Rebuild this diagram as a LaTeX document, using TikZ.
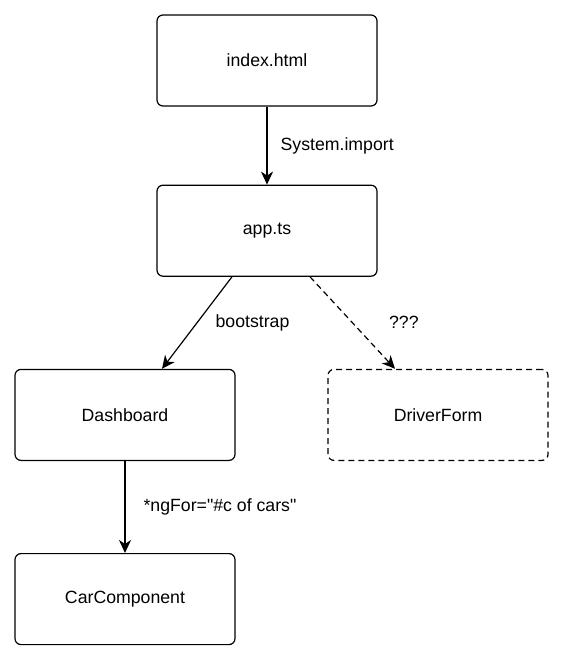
\documentclass[tikz,border=0pt]{standalone}
\usepackage{fontspec}
\newfontfamily\diafont{Liberation Sans}
\usetikzlibrary{arrows.meta,positioning}

\begin{document}
\begin{tikzpicture}[
    box/.style={draw,rounded corners=6pt,minimum width=220pt,
                minimum height=91pt,line width=1.2pt,
                font=\diafont\fontsize{17.7}{21}\selectfont},
    arr/.style={-{Stealth[length=13pt,width=12pt,inset=4pt]},line width=1.2pt},
    lbl/.style={font=\diafont\fontsize{17.7}{21}\selectfont,inner sep=0pt},
  ]
  \useasboundingbox (0,0) rectangle (562pt,-660pt);
  \node[box](idx) at (267pt,-60.5pt){index.html};
  \node[box,below=78pt of idx](app){app.ts};
  \node[box,below=92pt of app,xshift=-142pt](dash){Dashboard};
  \node[box,below=92pt of app,xshift=171pt,
        dash pattern=on 6pt off 4pt](drv){DriverForm};
  \node[box,below=92pt of dash](car){CarComponent};
  \draw[arr](idx)--(app)node[midway,right=13pt,lbl]{System.import};
  \draw[arr]([xshift=-35pt]app.south)--([xshift=37pt]dash.north)
    node[midway,right=18pt,lbl]{bootstrap};
  \draw[arr,dash pattern=on 6pt off 4pt]([xshift=43pt]app.south)
    --([xshift=-43pt]drv.north)node[midway,right=36pt,lbl]{???};
  \draw[arr](dash)--(car)node[midway,right=18pt,lbl]{*ngFor="\#c of cars"};
\end{tikzpicture}
\end{document}
